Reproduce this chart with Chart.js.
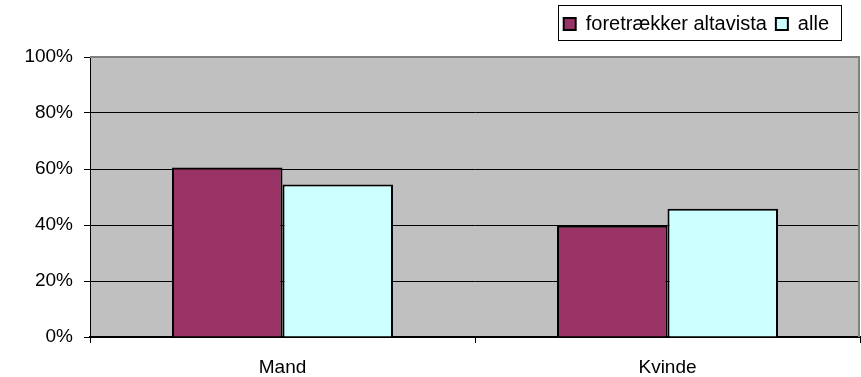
<!DOCTYPE html>
<html lang="da">
  <head>
    <meta charset="UTF-8" />
    <title>foretrækker altavista</title>
    <script src="https://cdn.jsdelivr.net/npm/chart.js"></script>
    <style>
      html, body { margin: 0; padding: 0; background: #fff; }
      #wrap { width: 861px; height: 377px; }
    </style>
  </head>
  <body>
    <div id="wrap"><canvas id="chart" width="861" height="377"></canvas></div>
    <script>
      // data (percent)
      const categories = ["Mand", "Kvinde"];
      const altavista = [60.5, 39.7];
      const alle = [54.5, 45.8];
      const yTicks = [0, 20, 40, 60, 80, 100];

      const font = { family: "'Liberation Sans', Arial, sans-serif", size: 19 };

      // grey plot background plus the grey top/right frame
      const plotBg = {
        id: "plotBg",
        beforeDraw(chart) {
          const { ctx, chartArea: a } = chart;
          ctx.save();
          ctx.fillStyle = "#c0c0c0";
          ctx.fillRect(a.left, a.top, a.right - a.left, a.bottom - a.top);
          ctx.restore();
        },
        afterDatasetsDraw(chart) {
          const { ctx, chartArea: a } = chart;
          ctx.save();
          ctx.strokeStyle = "#808080";
          ctx.lineWidth = 2;
          ctx.beginPath();
          ctx.moveTo(a.left, a.top);
          ctx.lineTo(a.right - 1, a.top);
          ctx.lineTo(a.right - 1, a.bottom);
          ctx.stroke();
          ctx.restore();
        },
      };

      // move legend to top right and frame it
      const legendBox = {
        id: "legendBox",
        afterLayout(chart) {
          const lg = chart.legend;
          lg.right = 838;
          lg.top = 5;
        },
        afterDraw(chart) {
          const lg = chart.legend;
          const { ctx } = chart;
          const start = lg.right - lg.lineWidths[0];
          ctx.save();
          ctx.strokeStyle = "#000";
          ctx.lineWidth = 1;
          ctx.strokeRect(Math.round(start - 6) + 0.5, 5.5, Math.round(lg.right + 3 - (start - 6)), 35);
          ctx.restore();
        },
      };

      new Chart(document.getElementById("chart"), {
        type: "bar",
        data: {
          labels: categories,
          datasets: [
            {
              label: "foretrækker altavista",
              data: altavista,
              backgroundColor: "#993366",
              borderColor: "#000",
              borderWidth: 2,
            },
            {
              label: "alle",
              data: alle,
              backgroundColor: "#ccffff",
              borderColor: "#000",
              borderWidth: 2,
            },
          ],
        },
        options: {
          responsive: false,
          animation: false,
          layout: { padding: { top: 18, right: 1, bottom: 0, left: 0 } },
          datasets: {
            bar: { barPercentage: 1, categoryPercentage: 0.574 },
          },
          plugins: {
            legend: {
              position: "top",
              align: "end",
              labels: {
                boxWidth: 12,
                boxHeight: 12,
                padding: 9,
                color: "#000",
                font: { family: font.family, size: 20 },
              },
            },
            tooltip: { enabled: false },
          },
          scales: {
            x: {
              offset: true,
              afterFit(scale) { scale.height = 40; },
              grid: {
                offset: true,
                drawOnChartArea: false,
                drawTicks: true,
                tickLength: 6,
                color: "#000",
              },
              border: { color: "#000", width: 2 },
              ticks: { color: "#000", font, padding: 13 },
            },
            y: {
              min: 0,
              max: 100,
              afterFit(scale) { scale.width = 90; },
              afterBuildTicks(scale) {
                scale.ticks = yTicks.map((v) => ({ value: v }));
              },
              grid: {
                color: (c) => (c.tick && c.tick.value === 100 ? "#808080" : "#000"),
                tickColor: "#000",
                tickLength: 6,
                lineWidth: 1,
              },
              border: { color: "#000", width: 1 },
              ticks: {
                color: "#000",
                font,
                padding: 11,
                callback: (v) => v + "%",
              },
            },
          },
        },
        plugins: [plotBg, legendBox],
      });
    </script>
  </body>
</html>
